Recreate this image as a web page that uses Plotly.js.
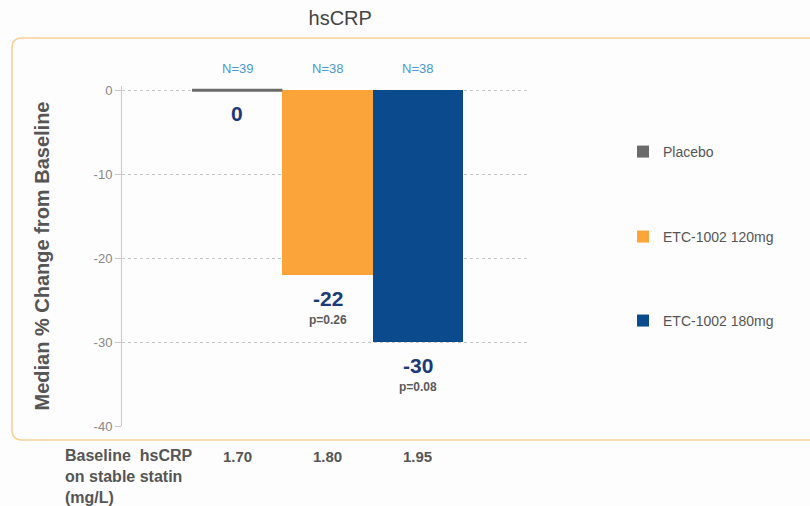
<!DOCTYPE html>
<html>
<head>
<meta charset="utf-8">
<script src="https://cdn.plot.ly/plotly-3.0.1.min.js"></script>
<style>html,body{margin:0;padding:0;background:#fdfdfd;}#chart{width:810px;height:506px;}</style>
</head>
<body>
<div id="chart"></div>
<script>
// ---- data ----
const groups = ["Placebo", "ETC-1002 120mg", "ETC-1002 180mg"];
const medianChange = [0, -22, -30];
const nLabels = ["N=39", "N=38", "N=38"];
const pValues = ["", "p=0.26", "p=0.08"];
const baselineCRP = ["1.70", "1.80", "1.95"];
const barColors = ["#6b6b6b", "#faa43a", "#0b4a8c"];
const yTicks = [0, -10, -20, -30, -40];

const FONT = "Arial, 'Liberation Sans', sans-serif";
const legendIds = ["legend", "legend2", "legend3"];
const legendY = [0.806, 0.556, 0.309];

const traces = groups.map((g, i) => ({
  type: "bar",
  name: g,
  x: [i],
  y: [medianChange[i]],
  width: 1,
  marker: {color: barColors[i], line: {width: 0}},
  legend: legendIds[i],
  showlegend: true,
  hoverinfo: "name+y"
}));

const annotations = [];
groups.forEach((g, i) => {
  annotations.push({x: i, y: 1.08, xref: "x", yref: "paper", text: nLabels[i], showarrow: false,
    font: {family: FONT, size: 13, color: "#4a98d6"}});
  const v = medianChange[i];
  annotations.push({x: i, y: v, xref: "x", yref: "y", yanchor: "top", yshift: -10, text: "<b>" + v + "</b>", showarrow: false,
    font: {family: FONT, size: 21, color: "#1d3a78"}});
  if (pValues[i]) {
    annotations.push({x: i, y: v, xref: "x", yref: "y", yanchor: "middle", yshift: -45, text: "<b>" + pValues[i] + "</b>", showarrow: false,
      font: {family: FONT, size: 12, color: "#5a5a5a"}});
  }
  annotations.push({x: i, y: -0.06, xref: "x", yref: "paper", yanchor: "top", text: "<b>" + baselineCRP[i] + "</b>", showarrow: false,
    font: {family: FONT, size: 15, color: "#555"}});
});
annotations.push({x: -0.145, y: -0.055, xref: "paper", yref: "paper", xanchor: "left", yanchor: "top", align: "left",
  text: "<b>Baseline  hsCRP<br>on stable statin<br>(mg/L)</b>", showarrow: false,
  font: {family: FONT, size: 16, color: "#555"}});

// rounded frame (paper coords)
const px = v => (v - 122) / 408;     // pixel -> paper x
const py = v => (426 - v) / 340;     // pixel -> paper y
const L = px(12), R = px(815), T = py(38), B = py(440);
const rx = 10 / 408, ry = 10 / 340;
const framePath = `M ${L + rx} ${T} L ${R} ${T} L ${R} ${B} L ${L + rx} ${B} Q ${L} ${B} ${L} ${B + ry} L ${L} ${T - ry} Q ${L} ${T} ${L + rx} ${T} Z`;

const shapes = [
  {type: "path", xref: "paper", yref: "paper", path: framePath, line: {color: "#f9cf98", width: 1.5}, layer: "below"},
  {type: "line", xref: "x", yref: "y", x0: -0.5, x1: 0.5, y0: medianChange[0], y1: medianChange[0],
    line: {color: barColors[0], width: 3}}
];

const legendBase = {xref: "paper", yref: "paper", x: 1.228, xanchor: "left", yanchor: "middle",
  bgcolor: "rgba(0,0,0,0)", font: {family: FONT, size: 14, color: "#555"}, itemwidth: 30};

const layout = {
  width: 810, height: 506,
  showlegend: true,
  paper_bgcolor: "#fdfdfd", plot_bgcolor: "rgba(0,0,0,0)",
  margin: {l: 122, r: 280, t: 86, b: 80},
  title: {text: "hsCRP", x: 0.42, xanchor: "center", y: 0.965, yanchor: "middle", font: {family: FONT, size: 20, color: "#444"}},
  barmode: "overlay",
  bargap: 0,
  xaxis: {range: [-1.275, 3.24], showticklabels: false, showgrid: false, zeroline: false, showline: false, ticks: "", fixedrange: true},
  yaxis: {range: [-40, 0.5], tickvals: yTicks, ticktext: yTicks.map(String), showgrid: true, gridcolor: "#c8c8c8", griddash: "dot", gridwidth: 1,
    zeroline: false, showline: true, linecolor: "#c8c8c8", linewidth: 1, ticks: "outside", ticklen: 6, tickcolor: "#c8c8c8",
    tickfont: {family: FONT, size: 13, color: "#888"},
    title: {text: "<b>Median % Change from Baseline</b>", standoff: 38, font: {family: FONT, size: 20, color: "#555"}}},
  legend: Object.assign({}, legendBase, {y: legendY[0]}),
  legend2: Object.assign({}, legendBase, {y: legendY[1]}),
  legend3: Object.assign({}, legendBase, {y: legendY[2]}),
  annotations: annotations,
  shapes: shapes
};

Plotly.newPlot("chart", traces, layout, {displayModeBar: false, staticPlot: true});
</script>
</body>
</html>
